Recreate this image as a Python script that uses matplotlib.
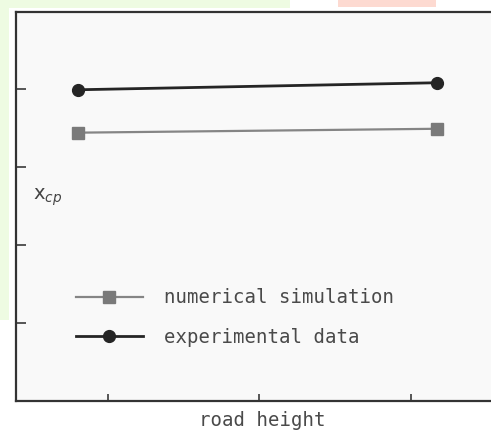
import matplotlib
matplotlib.use("Agg")
import matplotlib.pyplot as plt
from matplotlib.patches import Rectangle

# ---------------- data ----------------
road_height = [0.80, 3.17]
numerical_sim = [3.44, 3.49]
experimental = [3.99, 4.08]
labels = ["numerical simulation", "experimental data"]

W, H = 491, 430
fig = plt.figure(figsize=(W / 100, H / 100), dpi=100)
fig.patch.set_facecolor("white")

# faint coloured strips round the scanned figure
fig.add_artist(Rectangle((0, 1 - 8 / H), 290 / W, 8 / H, transform=fig.transFigure,
                         color="#eefbe2", lw=0, zorder=0))
fig.add_artist(Rectangle((0, 1 - 320 / H), 9 / W, 320 / H, transform=fig.transFigure,
                         color="#eefbe2", lw=0, zorder=0))
fig.add_artist(Rectangle((338 / W, 1 - 7 / H), 98 / W, 7 / H, transform=fig.transFigure,
                         color="#fddad1", lw=0, zorder=0))

# axes run a little past the right edge, so no right border shows
ax = fig.add_axes([16 / W, (H - 401) / H, (W - 16 + 6) / W, 389 / H])
ax.set_facecolor("#f9f9f9")

ax.plot(road_height, numerical_sim, color="#858585", lw=1.6, marker="s",
        markersize=9, markerfacecolor="#7a7a7a", markeredgecolor="#7a7a7a",
        label=labels[0])
ax.plot(road_height, experimental, color="#252525", lw=2, marker="o",
        markersize=8.5, markerfacecolor="#252525", markeredgecolor="#252525",
        label=labels[1])

ax.set_xlim(0.393, 3.528 + 6 / 151.5)
ax.set_ylim(0, 4.987)
ax.set_xticks([1, 2, 3])
ax.set_yticks([1, 2, 3, 4])
ax.tick_params(axis="y", direction="in", length=7.5, width=1.4, color="#555555",
               labelleft=False)
ax.tick_params(axis="x", direction="in", length=5, width=1.4, color="#555555",
               labelbottom=False)
ax.spines["right"].set_visible(False)
for s in ["left", "top", "bottom"]:
    ax.spines[s].set_color("#333333")
    ax.spines[s].set_linewidth(1.6)

leg = ax.legend(loc="upper left", bbox_to_anchor=(0.124, 0.29), frameon=False,
                borderpad=0, borderaxespad=0, handlelength=3.55, handletextpad=1.1,
                labelspacing=1.1, prop={"family": "DejaVu Sans Mono", "size": 13.7})
for t in leg.get_texts():
    t.set_color("#4a4a4a")

fig.text(48 / W, 1 - 197 / H, r"x$_{cp}$", fontsize=14, color="#444444",
         ha="center", va="center")
fig.text(262 / W, 1 - 421 / H, "road height", fontsize=13.7, color="#4a4a4a",
         family="DejaVu Sans Mono", ha="center", va="center")

fig.savefig("out.png", dpi=100, facecolor=fig.get_facecolor())
